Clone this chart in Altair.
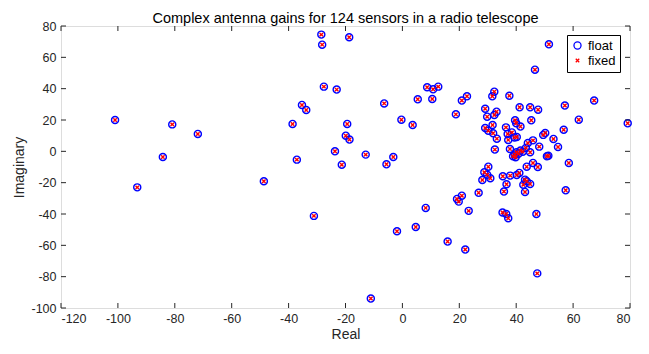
import altair as alt
import pandas as pd

# Values (float and fixed coincide)
real = [-101, -93.2, -84.2, -80.9, -71.9, -48.7, -38.6, -37.1, -35.3, -33.8,
        -31.1, -28.5, -28.2, -27.6, -23.1, -23.7, -21.3, -19.4, -18.7, -19.9,
        -18.6, -12.9, -11.1, -6.4, -5.6, -3.2, -0.35, 3.6, 5.4, 8.7,
        10.8, 12.6, 10.5, 18.8, 20.9, 22.7, -1.9, 4.7, 8.2, 15.9,
        22.1, 19.2, 19.8, 20.9, 23.3, 26.8, 30.2, 29.1, 29.8, 32.3,
        31.6, 33.1, 32.3, 29.1, 30.2, 31.7, 31.9, 33.2, 32.5, 37.6,
        36.4, 37.0, 37.2, 38.5, 39.6, 40.0, 41.5, 39.4, 40.2, 41.2,
        44.9, 47.7, 45.3, 37.8, 38.9, 40.1, 43.4, 44.1, 45.9, 44.9,
        48.1, 46.6, 51.5, 49.5, 50.2, 53.1, 54.7, 56.7, 57.1, 62.0,
        67.4, 79.2, 50.8, 51.3, 58.5, 43.7, 45.9, 47.6, 28.1, 28.8,
        29.8, 30.9, 35.3, 36.6, 35.7, 37.9, 40.2, 41.1, 43.1, 43.7,
        44.9, 42.5, 43.1, 35.2, 36.5, 37.2, 47.1, 47.4, 57.4, 39.5,
        40.8, 41.5, 42.3, 39.8]
imag = [20, -23, -3.6, 17.2, 11.1, -19.1, 17.5, -5.3, 29.6, 26.4,
        -41.2, 74.5, 68.1, 41.3, 39.4, 0, -8.5, 17.5, 72.8, 10,
        7.5, -2.1, -94, 30.6, -8.3, -3.6, 20.2, 16.8, 33.2, 40.9,
        39.6, 41.3, 33.4, 23.6, 32.4, 35.1, -51, -48.3, -36.1, -57.6,
        -62.7, -30.4, -32.1, -28.3, -38, -26.5, -9.8, 27.2, 22.1, 38.1,
        35.1, 25.3, 23.2, 14.9, 13.2, 16.8, 11.5, 8.1, 1.1, 35.5,
        15.3, 11.1, 7.3, 12.1, 19.8, 17.9, 15.8, 8.9, 9.2, 28.1,
        28.1, 26.6, 19.8, 1.5, -3.2, -0.6, 2.2, 5.3, 7.0, -0.6,
        3.0, 52.1, 68.3, 10.5, 11.7, 7.9, 2.8, 13.8, 29.2, 20.2,
        32.4, 17.9, -3.2, -2.8, -7.4, -9.8, -7.4, -10, -18.3, -13.4,
        -14.9, -17.2, -15.9, -21, -25.7, -15.5, -15.1, -13.8, -18.1, -19.1,
        -20.8, -21.3, -25.9, -39.1, -40, -42.7, -40, -77.9, -24.9, -2.0,
        -1.5, 0.5, -0.2, -3.8]

series = ["float", "fixed"]
x_ticks = [-120, -100, -80, -60, -40, -20, 0, 20, 40, 60, 80]
y_ticks = [-100, -80, -60, -40, -20, 0, 20, 40, 60, 80]

rows = []
for s in series:
    for r, i in zip(real, imag):
        rows.append({"Real": r, "Imaginary": i, "series": s})
df = pd.DataFrame(rows)

W, H = 569, 282
FONT = "Liberation Sans"

xs = alt.Scale(domain=[-120, 80], nice=False, zero=False)
ys = alt.Scale(domain=[-100, 80], nice=False, zero=False)

xpath = "M-1,-1L1,1M-1,1L1,-1"
lab = "'' + datum.value"

x_axis = alt.Axis(values=x_ticks, title="Real", grid=False, ticks=False,
                  domain=False, labelFontSize=12.5, titleFontSize=14,
                  titleFontWeight="normal", labelPadding=4, titlePadding=3,
                  labelColor="#262626", titleColor="#262626",
                  labelFont=FONT, titleFont=FONT, labelExpr=lab,
                  labelOverlap=False)
y_axis = alt.Axis(values=y_ticks, title="Imaginary", grid=False, ticks=False,
                  domain=False, labelFontSize=12.5, titleFontSize=14,
                  titleFontWeight="normal", labelPadding=5, titlePadding=4,
                  labelColor="#262626", titleColor="#262626",
                  labelFont=FONT, titleFont=FONT, labelExpr=lab,
                  labelOverlap=False)

points = alt.Chart(df).mark_point(filled=False, strokeWidth=1.4, opacity=1).encode(
    x=alt.X("Real:Q", scale=xs, axis=x_axis),
    y=alt.Y("Imaginary:Q", scale=ys, axis=y_axis),
    color=alt.Color("series:N", scale=alt.Scale(domain=series, range=["#0000ff", "#ff0000"]),
                    legend=alt.Legend(title=None, orient="none", legendX=506, legendY=9,
                                      fillColor="white", strokeColor="black", padding=4,
                                      labelFontSize=13, labelFont=FONT, labelColor="black",
                                      symbolStrokeWidth=1.3, rowPadding=1, cornerRadius=0)),
    shape=alt.Shape("series:N", scale=alt.Scale(domain=series, range=["circle", xpath])),
    size=alt.Size("series:N", scale=alt.Scale(domain=series, range=[50, 12]), legend=None),
    order=alt.Order("order:Q"),
).transform_calculate(order="datum.series == 'float' ? 0 : 1")

tx = pd.DataFrame({"Real": x_ticks})
ty = pd.DataFrame({"Imaginary": y_ticks})
rule_style = dict(color="#262626", strokeWidth=1)
bottom = alt.Chart(tx).mark_rule(**rule_style).encode(
    x=alt.X("Real:Q", scale=xs, axis=x_axis), y=alt.value(H), y2=alt.value(H - 5))
top = alt.Chart(tx).mark_rule(**rule_style).encode(
    x=alt.X("Real:Q", scale=xs, axis=x_axis), y=alt.value(0), y2=alt.value(5))
left = alt.Chart(ty).mark_rule(**rule_style).encode(
    y=alt.Y("Imaginary:Q", scale=ys, axis=y_axis), x=alt.value(0), x2=alt.value(5))
right = alt.Chart(ty).mark_rule(**rule_style).encode(
    y=alt.Y("Imaginary:Q", scale=ys, axis=y_axis), x=alt.value(W), x2=alt.value(W - 5))

chart = alt.layer(points, bottom, top, left, right).properties(
    width=W, height=H,
    title=alt.Title("Complex antenna gains for 124 sensors in a radio telescope",
                    fontSize=14.5, fontWeight="normal", font=FONT, color="black",
                    offset=2, dy=8),
    autosize=alt.AutoSizeParams(type="none"),
    padding={"left": 53, "top": 18, "right": 10, "bottom": 40},
).configure_view(stroke="#262626", strokeWidth=1.2).configure(background="white")

chart.save("out.html", embed_options={"renderer": "svg", "actions": False})
